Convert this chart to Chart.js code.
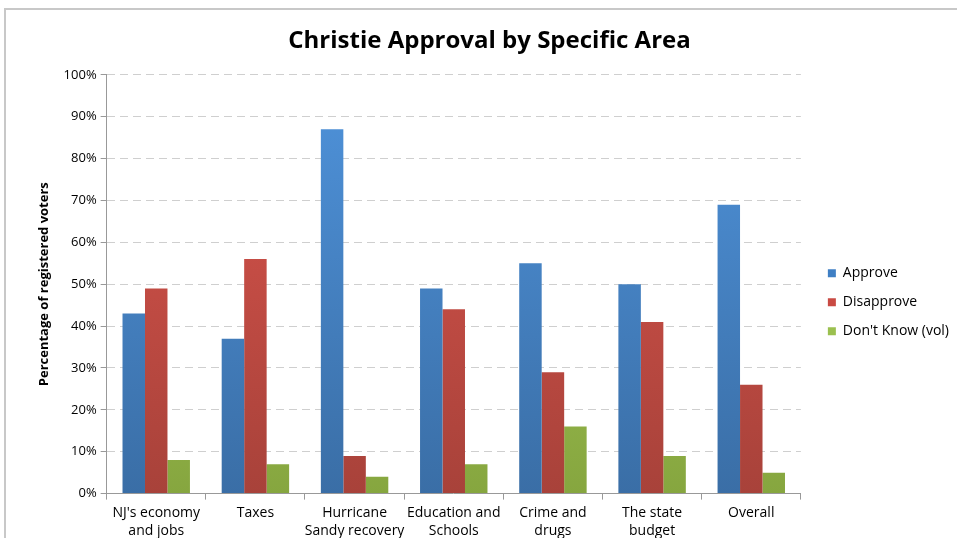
<!DOCTYPE html>
<html>
<head>
<meta charset="utf-8">
<script src="https://cdn.jsdelivr.net/npm/chart.js@4.4.0/dist/chart.umd.min.js"></script>
<style>
  html, body { margin: 0; padding: 0; background: #fff; width: 957px; height: 538px; overflow: hidden; }
  #frame { position: absolute; left: 4px; top: 8px; width: 960px; height: 540px; border: 2px solid #c8c8c8; box-sizing: border-box; background: #fff; }
  #wrap { position: absolute; left: 6px; top: 10px; width: 951px; height: 534px; }
</style>
</head>
<body>
<div id="frame"></div>
<div id="wrap"><canvas id="chart"></canvas></div>
<script>
const categories = [
    ["NJ's economy", "and jobs"],
    "Taxes",
    ["Hurricane", "Sandy recovery"],
    ["Education and", "Schools"],
    ["Crime and", "drugs"],
    ["The state", "budget"],
    "Overall"
];
const approve = [43, 37, 87, 49, 55, 50, 69];
const disapprove = [49, 56, 9, 44, 29, 41, 26];
const dontKnow = [8, 7, 4, 7, 16, 9, 5];
const yTicks = [0, 10, 20, 30, 40, 50, 60, 70, 80, 90, 100];

const fontFamily = "'Open Sans', 'Liberation Sans', sans-serif";

function gradient(top, bottom) {
    return ctx => {
        const area = ctx.chart.chartArea;
        if (!area) return top;
        const g = ctx.chart.ctx.createLinearGradient(0, area.top, 0, area.bottom);
        g.addColorStop(0, top);
        g.addColorStop(1, bottom);
        return g;
    };
}

const datasets = [
    { label: 'Approve', data: approve, bg: gradient('#4f93db', '#3a6ea6'), legend: '#3f7fc4' },
    { label: 'Disapprove', data: disapprove, bg: gradient('#db554d', '#a8423a'), legend: '#c94a43' },
    { label: "Don't Know (vol)", data: dontKnow, bg: gradient('#aed15e', '#86a63f'), legend: '#9bc04f' }
].map(d => ({
    label: d.label,
    data: d.data,
    backgroundColor: d.bg,
    legendColor: d.legend,
    borderWidth: 0,
    categoryPercentage: 0.68,
    barPercentage: 1.0
}));

// nudge the legend to the right without widening the plot
const legendShift = {
    id: 'legendShift',
    afterLayout: chart => {
        chart.legend.left += 12;
        chart.legend.right += 12;
    }
};

new Chart(document.getElementById('chart'), {
    type: 'bar',
    data: { labels: categories, datasets },
    options: {
        responsive: true,
        maintainAspectRatio: false,
        animation: false,
        layout: { padding: { left: 26, right: 10, top: 0, bottom: 0 } },
        plugins: {
            title: {
                display: true,
                text: 'Christie Approval by Specific Area',
                color: '#000',
                font: { family: fontFamily, size: 24, weight: 'bold' },
                padding: { top: 17, bottom: 19 }
            },
            legend: {
                position: 'right',
                title: { display: true, text: ' ', font: { size: 12 }, padding: { top: 18, bottom: 18 } },
                labels: {
                    boxWidth: 8,
                    boxHeight: 8,
                    padding: 15,
                    color: '#000',
                    font: { family: fontFamily, size: 14 },
                    generateLabels: chart => chart.data.datasets.map((ds, i) => ({
                        text: ds.label,
                        fillStyle: ds.legendColor,
                        strokeStyle: ds.legendColor,
                        fontColor: '#000',
                        lineWidth: 0,
                        datasetIndex: i
                    }))
                }
            },
            tooltip: { enabled: false }
        },
        scales: {
            x: {
                grid: { display: true, drawOnChartArea: false, offset: true, tickLength: 6, color: '#999' },
                border: { color: '#999' },
                ticks: { color: '#000', font: { family: fontFamily, size: 14, lineHeight: 1.3 }, maxRotation: 0, autoSkip: false, padding: 4 }
            },
            y: {
                min: 0,
                max: 100,
                afterBuildTicks: axis => { axis.ticks = yTicks.map(v => ({ value: v })); },
                grid: { color: '#cfcfcf', tickLength: 6, tickColor: '#999', lineWidth: 1 },
                border: { color: '#999', dash: [8, 5] },
                ticks: { color: '#000', font: { family: fontFamily, size: 13 }, callback: v => v + '%', padding: 4 },
                title: {
                    display: true,
                    text: 'Percentage of registered voters',
                    color: '#000',
                    font: { family: fontFamily, size: 13, weight: 'bold' },
                    padding: { bottom: 8 }
                }
            }
        }
    },
    plugins: [legendShift]
});
</script>
</body>
</html>
